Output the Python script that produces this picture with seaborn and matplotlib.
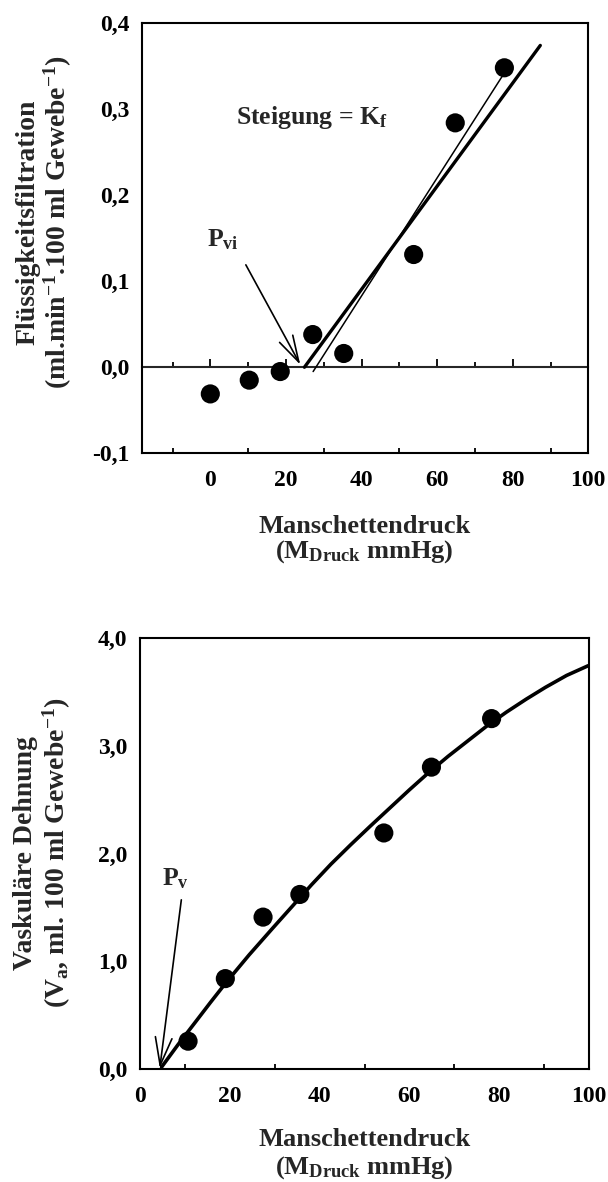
import matplotlib
matplotlib.use('Agg')

import matplotlib.pyplot as plt
import matplotlib.ticker as mticker
import seaborn as sns

# oben: Flüssigkeitsfiltration gegen Manschettendruck
druck_filt = [0, 10.3, 18.5, 27.1, 35.3, 53.8, 64.8, 77.8]
filtration = [-0.031, -0.015, -0.005, 0.038, 0.016, 0.131, 0.284, 0.348]

# dicke Gerade (Steigung = Kf) und duenne Gerade, jeweils Endpunkte
kf_x = [24.9, 87.3]
kf_y = [0.0, 0.374]
reg_x = [27.2, 77.2]
reg_y = [-0.005, 0.338]

# unten: vaskulaere Dehnung
druck_dehn = [10.7, 19.0, 27.4, 35.6, 54.3, 64.9, 78.3]
dehnung = [0.26, 0.84, 1.41, 1.62, 2.19, 2.80, 3.25]

kurve_x = [4.8, 8.5, 12.2, 15.7, 19.1, 24.3, 29.6, 33.9, 38.2, 42.5, 46.9,
           51.2, 55.6, 60.0, 64.3, 68.6, 72.9, 77.2, 81.6, 86.0, 90.3, 95.0, 99.8]
kurve_y = [0.02, 0.23, 0.43, 0.62, 0.80, 1.06, 1.31, 1.51, 1.71, 1.90, 2.08,
           2.25, 2.42, 2.59, 2.75, 2.90, 3.04, 3.18, 3.31, 3.43, 3.54, 3.65, 3.74]

sns.set_style('white')
plt.rcParams['font.family'] = ['Liberation Serif', 'DejaVu Serif']
plt.rcParams['font.weight'] = 'bold'
plt.rcParams['mathtext.fontset'] = 'custom'
plt.rcParams['mathtext.rm'] = 'Liberation Serif:bold'
plt.rcParams['mathtext.it'] = 'Liberation Serif:bold'
plt.rcParams['mathtext.bf'] = 'Liberation Serif:bold'

TICK = 17
LAB = 19
YLAB = 20
ANN = 18.5


def komma(v, pos):
    return ('%.1f' % (v + 0.0)).replace('.', ',')


def style_axes(ax):
    for s in ax.spines.values():
        s.set_linewidth(1.5)
        s.set_color('black')
    ax.xaxis.set_major_locator(mticker.MultipleLocator(20))
    ax.xaxis.set_minor_locator(mticker.MultipleLocator(10))
    ax.yaxis.set_major_formatter(mticker.FuncFormatter(komma))
    ax.tick_params(axis='both', which='both', direction='in', width=1.3,
                   colors='black', labelsize=TICK, top=False, right=False)
    ax.tick_params(axis='both', which='major', length=6)
    ax.tick_params(axis='y', which='minor', left=False)
    ax.tick_params(axis='x', which='minor', bottom=True, length=3.5)
    ax.tick_params(axis='y', pad=9)
    ax.tick_params(axis='x', pad=12)


fig = plt.figure(figsize=(6.08, 11.82), dpi=100)
ax1 = fig.add_axes([0.234, 0.6165, 0.7336, 0.364])
ax2 = fig.add_axes([0.2303, 0.0954, 0.7385, 0.3651])

# ---- oberes Diagramm ----
sns.lineplot(x=kf_x, y=kf_y, color='black', linewidth=2.4, ax=ax1)
sns.lineplot(x=reg_x, y=reg_y, color='black', linewidth=1.1, ax=ax1)
sns.scatterplot(x=druck_filt, y=filtration, color='black', s=190,
                edgecolor='none', ax=ax1, zorder=3)
ax1.set_xlim(-18, 100)
ax1.set_ylim(-0.1, 0.4)
ax1.yaxis.set_major_locator(mticker.MultipleLocator(0.1))
style_axes(ax1)

# Nulllinie mit Teilstrichen
null = ax1.secondary_xaxis(0.2)
null.spines['bottom'].set_linewidth(1.5)
null.xaxis.set_major_locator(mticker.MultipleLocator(20))
null.xaxis.set_minor_locator(mticker.MultipleLocator(10))
null.tick_params(axis='x', which='both', direction='in', width=1.3,
                 labelbottom=False, colors='black')
null.tick_params(axis='x', which='major', length=6)
null.tick_params(axis='x', which='minor', length=3.5)

ax1.text(6.9, 0.29, 'Steigung = K$_{f}$', fontsize=ANN, ha='left', va='center')
ax1.text(-0.9, 0.148, 'P$_{vi}$', fontsize=ANN, ha='left', va='center')
ax1.annotate('', xy=(23.8, 0.003), xytext=(9.4, 0.119),
             arrowprops=dict(arrowstyle='->,head_length=0.95,head_width=0.27',
                             lw=1.2, color='black', mutation_scale=20,
                             shrinkA=0, shrinkB=0))

# ---- unteres Diagramm ----
sns.lineplot(x=kurve_x, y=kurve_y, color='black', linewidth=2.6, ax=ax2)
sns.scatterplot(x=druck_dehn, y=dehnung, color='black', s=190,
                edgecolor='none', ax=ax2, zorder=3)
ax2.set_xlim(0, 100)
ax2.set_ylim(0, 4)
ax2.yaxis.set_major_locator(mticker.MultipleLocator(1))
style_axes(ax2)

ax2.text(4.8, 1.77, 'P$_{v}$', fontsize=ANN, ha='left', va='center')
ax2.annotate('', xy=(4.4, 0.01), xytext=(9.2, 1.57),
             arrowprops=dict(arrowstyle='->,head_length=1.0,head_width=0.3',
                             lw=1.2, color='black', mutation_scale=20,
                             shrinkA=0, shrinkB=0))

# ---- Achsenbeschriftungen ----
fig.text(0.046, 0.812, 'Flüssigkeitsfiltration', rotation=90,
         ha='center', va='center', fontsize=YLAB)
fig.text(0.0954, 0.812, '(ml.min$^{-1}$.100 ml Gewebe$^{-1}$)', rotation=90,
         ha='center', va='center', fontsize=YLAB)
fig.text(0.600, 0.549, 'Manschettendruck', ha='center', va='baseline',
         fontsize=LAB)
fig.text(0.600, 0.528, '(M$_{Druck}$ mmHg)', ha='center', va='baseline',
         fontsize=LAB)

fig.text(0.042, 0.2783, 'Vaskuläre Dehnung', rotation=90,
         ha='center', va='center', fontsize=YLAB)
fig.text(0.094, 0.2783, '(V$_{a}$, ml. 100 ml Gewebe$^{-1}$)', rotation=90,
         ha='center', va='center', fontsize=YLAB)
fig.text(0.5995, 0.0305, 'Manschettendruck', ha='center', va='baseline',
         fontsize=LAB)
fig.text(0.5995, 0.0075, '(M$_{Druck}$ mmHg)', ha='center', va='baseline',
         fontsize=LAB)

fig.savefig('out.png', dpi=100)
